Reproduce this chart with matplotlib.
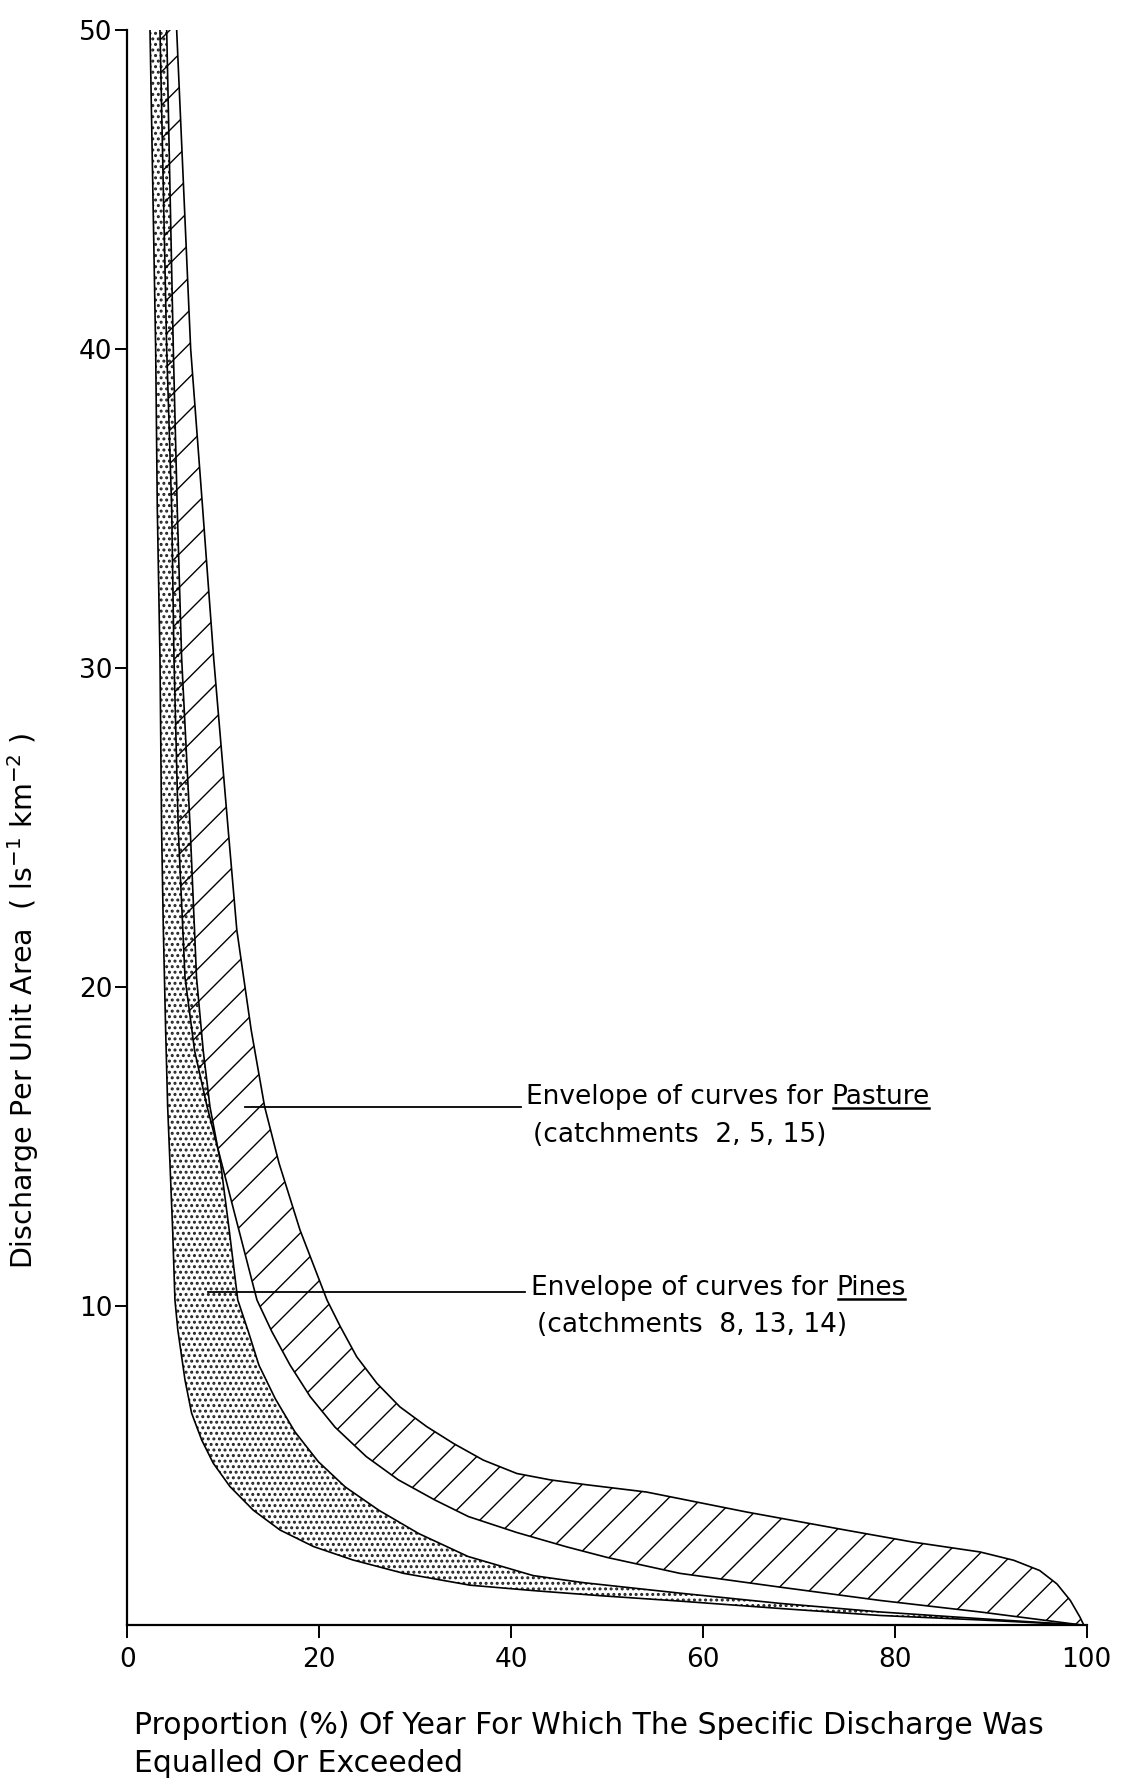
import matplotlib
matplotlib.use('Agg')
import matplotlib.pyplot as plt
from matplotlib.lines import Line2D

# Flow duration envelopes (x = % of year, y = l s-1 km-2)
pines_lower_x = [2.35, 2.94, 3.11, 3.39, 3.56, 3.74, 3.98, 4.19, 4.43, 4.71, 4.95, 5.25, 6.0,
                 6.69, 7.74, 8.95, 10.69, 13.12, 15.9, 19.4, 23.5, 28.8, 35.7, 42.3, 49.3,
                 57.6, 68.0, 78.5, 88.9, 99.5]
pines_lower_y = [50, 40, 35, 30.3, 24.9, 21.8, 18.65, 16.25, 14.48, 12.39, 10.19, 9.25, 7.68,
                 6.64, 5.8, 5.07, 4.34, 3.6, 2.98, 2.46, 2.04, 1.62, 1.25, 1.08, 0.92,
                 0.75, 0.52, 0.3, 0.16, 0]

pines_upper_x = [4.09, 4.78, 5.19, 5.65, 6.55, 7.2, 7.9, 8.6, 9.7, 10.6, 11.5, 12.6, 13.7, 15.4,
                 17.45, 19.9, 22.7, 26.2, 30.35, 35.5, 42.3, 47.5, 57.6, 68.0, 78.5, 88.9, 99.5]
pines_upper_y = [50, 40, 35, 30.3, 24.9, 20.3, 18.0, 16.25, 14.5, 12.4, 10.19, 9.2, 8.15, 7.1,
                 6.06, 5.12, 4.33, 3.6, 2.87, 2.15, 1.55, 1.33, 1.0, 0.68, 0.41, 0.2, 0]

pasture_lower_x = [3.39, 4.09, 4.61, 4.85, 5.3, 6.0, 7.0, 8.3, 9.8, 11.6, 13.5, 15.05, 16.95,
                   19.05, 21.65, 24.9, 28.25, 32.05, 35.55, 40.6, 45.8, 50.0, 57.6, 68.0, 78.5,
                   88.9, 99.5]
pasture_lower_y = [50, 40, 35, 30.3, 24.9, 20.3, 18.0, 16.25, 14.5, 12.4, 10.19, 9.2, 8.15,
                   7.16, 6.2, 5.28, 4.55, 3.92, 3.4, 2.9, 2.45, 2.12, 1.62, 1.19, 0.77,
                   0.41, 0]

pasture_upper_x = [5.13, 6.59, 7.84, 8.99, 10.51, 11.4, 12.9, 14.3, 15.8, 17.98, 20.8, 22.2,
                   23.9, 26.0, 28.4, 31.2, 34.0, 37.1, 40.6, 44.1, 47.8, 54.1, 64.6, 75.0, 81.9,
                   88.9, 92.4, 95.1, 96.9, 98.3, 99.3, 99.7]
pasture_upper_y = [50, 40, 35, 30.3, 24.9, 21.79, 18.65, 16.25, 14.48, 12.39, 10.19, 9.35, 8.41,
                   7.58, 6.84, 6.22, 5.69, 5.17, 4.75, 4.55, 4.4, 4.17, 3.54, 2.97, 2.6, 2.29,
                   2.03, 1.71, 1.29, 0.77, 0.25, 0]

x_ticks = [0, 20, 40, 60, 80, 100]
y_ticks = [10, 20, 30, 40, 50]

fig = plt.figure(figsize=(11.35, 17.84), dpi=100)
ax = fig.add_axes([0.1123, 0.0891, 0.8451, 0.8941])

# dotted envelope (pines) and hatched envelope (pasture)
with plt.rc_context({'hatch.linewidth': 1.4}):
    ax.fill(pines_lower_x + pines_upper_x[::-1], pines_lower_y + pines_upper_y[::-1],
            facecolor='none', edgecolor='#222222', hatch='...', linewidth=0)
ax.fill(pasture_lower_x + pasture_upper_x[::-1], pasture_lower_y + pasture_upper_y[::-1],
        facecolor='none', edgecolor='black', hatch='/', linewidth=0)

for xs, ys in [(pines_lower_x, pines_lower_y), (pines_upper_x, pines_upper_y),
               (pasture_lower_x, pasture_lower_y), (pasture_upper_x, pasture_upper_y)]:
    ax.plot(xs, ys, color='black', linewidth=1.2, solid_joinstyle='round')

ax.set_xlim(0, 100)
ax.set_ylim(0, 50)
ax.spines['top'].set_visible(False)
ax.spines['right'].set_visible(False)
ax.spines['left'].set_linewidth(1.6)
ax.spines['bottom'].set_linewidth(1.6)
ax.set_xticks(x_ticks)
ax.set_yticks(y_ticks)
ax.tick_params(axis='both', direction='out', length=9, width=1.4, labelsize=19)
ax.tick_params(axis='x', pad=7)
ax.tick_params(axis='y', pad=2)

ax.set_xlabel('Proportion (%) Of Year For Which The Specific Discharge Was\nEqualled Or Exceeded',
              fontsize=21.5, loc='left', linespacing=1.4)
ax.xaxis.set_label_coords(0.0068, -0.054)
ax.set_ylabel(r'Discharge Per Unit Area  ( ls$^{-1}$ km$^{-2}$ )', fontsize=20.5)
ax.yaxis.set_label_coords(-0.09, 0.3915)

# pointer lines and annotations
ax.plot([12.3, 41.0], [16.25, 16.25], color='black', linewidth=1.3)
ax.plot([8.4, 41.4], [10.44, 10.44], color='black', linewidth=1.3)

fs = 19
t1 = ax.text(41.6, 16.55, 'Envelope of curves for ', fontsize=fs, va='center', ha='left')
t2 = ax.annotate('Pasture', xy=(1, 0), xycoords=t1, va='bottom', ha='left', fontsize=fs)
ax.text(42.3, 15.35, '(catchments  2, 5, 15)', fontsize=fs, va='center', ha='left')

t3 = ax.text(42.1, 10.55, 'Envelope of curves for ', fontsize=fs, va='center', ha='left')
t4 = ax.annotate('Pines', xy=(1, 0), xycoords=t3, va='bottom', ha='left', fontsize=fs)
ax.text(42.7, 9.4, '(catchments  8, 13, 14)', fontsize=fs, va='center', ha='left')

# underline the land-use words
fig.canvas.draw()
r = fig.canvas.get_renderer()
inv = fig.transFigure.inverted()
for t in (t2, t4):
    bb = t.get_window_extent(r)
    y = bb.y0 + 2
    (x0, y0), (x1, y1) = inv.transform([(bb.x0 + 1, y), (bb.x1 - 1, y)])
    fig.add_artist(Line2D([x0, x1], [y0, y1], color='black', linewidth=1.8,
                          transform=fig.transFigure))

fig.savefig('out.png', dpi=100, facecolor='white')
